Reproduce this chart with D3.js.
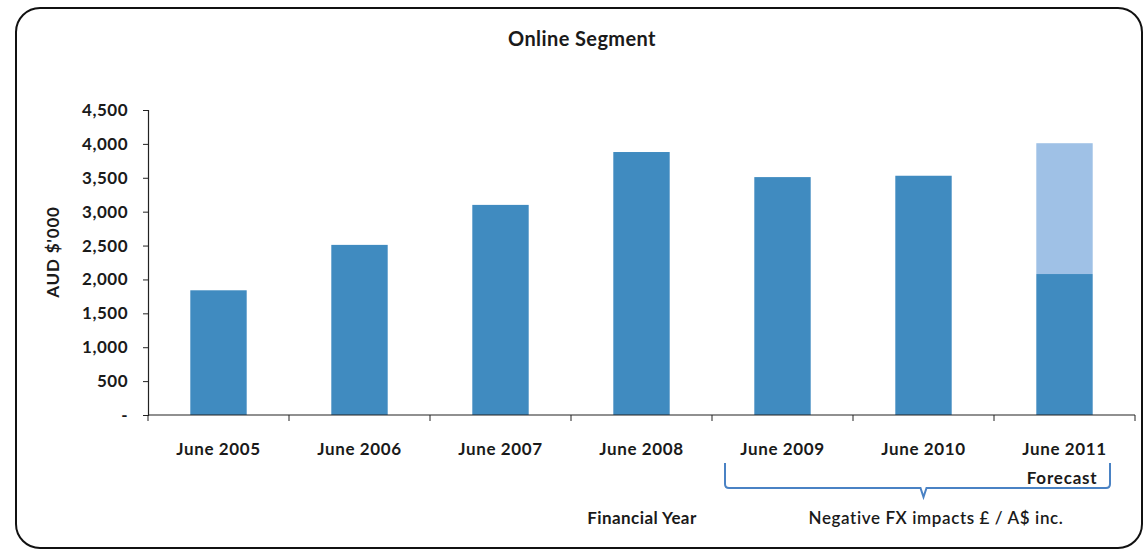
<!DOCTYPE html>
<html>
<head>
<meta charset="utf-8">
<script src="https://cdn.jsdelivr.net/npm/d3@7"></script>
<style>
  body { margin: 0; background: #fff; }
  text { font-family: Lato, "Open Sans", sans-serif; fill: #1a1a1a; }
</style>
</head>
<body>
<div id="chart"></div>
<script>
// chart data
var years = ["June 2005", "June 2006", "June 2007", "June 2008", "June 2009", "June 2010", "June 2011"];
var baseValues = [1840, 2510, 3100, 3880, 3510, 3530, 2080]; // darker blue part
var forecastExtra = [0, 0, 0, 0, 0, 0, 1930]; // light blue top on the forecast year
var yTicks = [0, 500, 1000, 1500, 2000, 2500, 3000, 3500, 4000, 4500];

var width = 1146, height = 552;
var margin = {left: 148, right: 11, top: 110, bottom: 137};

var svg = d3.select("#chart").append("svg")
  .attr("width", width)
  .attr("height", height);

// rounded frame round the chart
svg.append("rect")
  .attr("x", 16).attr("y", 8)
  .attr("width", 1126).attr("height", 540)
  .attr("rx", 24).attr("ry", 24)
  .attr("fill", "none")
  .attr("stroke", "#111")
  .attr("stroke-width", 2);

var x = d3.scaleBand()
  .domain(years)
  .range([margin.left, width - margin.right])
  .padding(0);

var y = d3.scaleLinear()
  .domain([0, 4500])
  .range([height - margin.bottom, margin.top]);

var barW = x.bandwidth() * 0.4;

// bars: base part
svg.selectAll(".bar")
  .data(years)
  .enter()
  .append("rect")
  .attr("class", "bar")
  .attr("x", function(d) { return x(d) + (x.bandwidth() - barW) / 2; })
  .attr("width", barW)
  .attr("y", function(d, i) { return y(baseValues[i]); })
  .attr("height", function(d, i) { return y(0) - y(baseValues[i]); })
  .attr("fill", "#408bc0");

// forecast top part stacked on base
svg.selectAll(".extra")
  .data(years)
  .enter()
  .append("rect")
  .attr("class", "extra")
  .attr("x", function(d) { return x(d) + (x.bandwidth() - barW) / 2; })
  .attr("width", barW)
  .attr("y", function(d, i) { return y(baseValues[i] + forecastExtra[i]); })
  .attr("height", function(d, i) { return y(baseValues[i]) - y(baseValues[i] + forecastExtra[i]); })
  .attr("fill", "#9fc1e6");

// y axis
var yAxis = svg.append("g")
  .attr("transform", "translate(" + margin.left + ",0)")
  .call(d3.axisLeft(y)
    .tickValues(yTicks)
    .tickSize(5)
    .tickPadding(15)
    .tickFormat(function(d) { return d === 0 ? "-" : d3.format(",")(d); }));
yAxis.select(".domain").attr("stroke", "#222").attr("stroke-width", 1.2);
yAxis.selectAll(".tick line").attr("stroke", "#222");
yAxis.selectAll("text")
  .style("font-size", "17px")
  .style("font-weight", "bold")
  .style("letter-spacing", "0.5px")
  .attr("fill", "#1a1a1a");

// x axis with ticks between categories
var xAxis = svg.append("g")
  .attr("transform", "translate(0," + y(0) + ")");
xAxis.append("line")
  .attr("x1", margin.left).attr("x2", width - margin.right)
  .attr("y1", 0).attr("y2", 0)
  .attr("stroke", "#222").attr("stroke-width", 1.2);
xAxis.selectAll(".xtick")
  .data(years.concat(["end"]))
  .enter()
  .append("line")
  .attr("class", "xtick")
  .attr("x1", function(d, i) { return margin.left + i * x.step(); })
  .attr("x2", function(d, i) { return margin.left + i * x.step(); })
  .attr("y1", 0).attr("y2", 6)
  .attr("stroke", "#222");
xAxis.selectAll(".xlabel")
  .data(years)
  .enter()
  .append("text")
  .attr("class", "xlabel")
  .attr("x", function(d) { return x(d) + x.bandwidth() / 2; })
  .attr("y", 40)
  .attr("text-anchor", "middle")
  .style("font-size", "17px")
  .style("font-weight", "bold")
  .style("letter-spacing", "0.6px")
  .text(function(d) { return d; });

// title and axis titles
svg.append("text")
  .attr("x", 582).attr("y", 46)
  .attr("text-anchor", "middle")
  .style("font-size", "20px")
  .style("font-weight", "bold")
  .style("letter-spacing", "0.4px")
  .text("Online Segment");

svg.append("text")
  .attr("transform", "translate(59,252) rotate(-90)")
  .attr("text-anchor", "middle")
  .style("font-size", "17px")
  .style("font-weight", "bold")
  .style("letter-spacing", "0.8px")
  .text("AUD $'000");

svg.append("text")
  .attr("x", 642).attr("y", 524)
  .attr("text-anchor", "middle")
  .style("font-size", "17px")
  .style("font-weight", "bold")
  .style("letter-spacing", "0.4px")
  .text("Financial Year");

svg.append("text")
  .attr("x", x("June 2011") + x.bandwidth() / 2 + 33).attr("y", 484)
  .attr("text-anchor", "end")
  .style("font-size", "17px")
  .style("font-weight", "bold")
  .style("letter-spacing", "0.8px")
  .text("Forecast");

// bracket under the FX-affected years
var bx1 = x("June 2009") + 13, bx2 = x("June 2011") + x.bandwidth() - 25;
var bmid = x("June 2010") + x.bandwidth() / 2 + 0;
var bTop = 463, bBot = 488;
svg.append("path")
  .attr("d", "M" + bx1 + "," + bTop + " L" + bx1 + "," + (bBot - 4) + " Q" + bx1 + "," + bBot + " " + (bx1 + 4) + "," + bBot +
    " L" + (bmid - 3) + "," + bBot + " L" + bmid + "," + (bBot + 9) + " L" + (bmid + 3) + "," + bBot +
    " L" + (bx2 - 4) + "," + bBot + " Q" + bx2 + "," + bBot + " " + bx2 + "," + (bBot - 4) + " L" + bx2 + "," + bTop)
  .attr("fill", "none")
  .attr("stroke", "#4a82c4")
  .attr("stroke-width", 2);

svg.append("text")
  .attr("x", 936).attr("y", 524)
  .attr("text-anchor", "middle")
  .style("font-size", "17px")
  .style("font-weight", "600")
  .style("letter-spacing", "0.6px")
  .text("Negative FX  impacts  £ / A$ inc.");
</script>
</body>
</html>
